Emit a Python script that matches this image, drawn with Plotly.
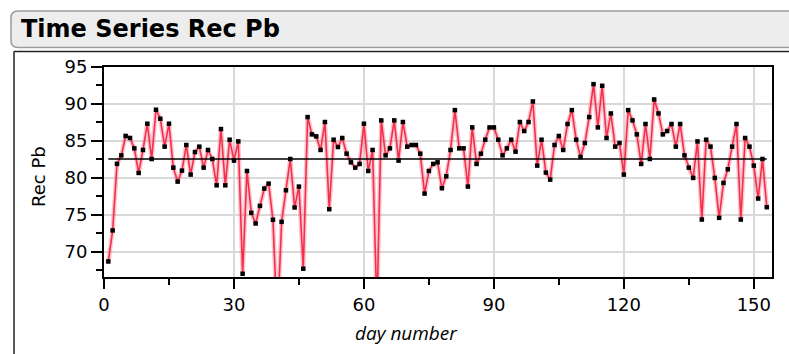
import plotly.graph_objects as go

# ---------------- data ----------------
days = list(range(1, 154))
rec_pb = [
    68.7, 72.9, 81.9, 83.05, 85.67, 85.4, 84.0, 80.67, 83.78, 87.33,
    82.56, 89.22, 88.0, 84.23, 87.33, 81.39, 79.5, 80.99, 84.45, 80.45,
    83.5, 84.23, 81.39, 83.78, 82.56, 79.0, 86.61, 79.0, 85.17, 82.34,
    84.94, 67.04, 80.94, 75.28, 73.84, 76.22, 78.56, 79.23, 74.34, 60.0,
    74.06, 78.33, 82.56, 76.0, 78.83, 67.72, 88.23, 85.89, 85.62, 83.78,
    87.56, 75.77, 85.17, 84.18, 85.4, 83.28, 82.11, 81.39, 81.89, 87.33,
    80.94, 83.78, 62.0, 87.78, 83.05, 84.0, 87.78, 82.34, 87.56, 84.23,
    84.45, 84.45, 83.28, 77.88, 80.94, 81.89, 82.11, 78.6, 80.22, 83.78,
    89.17, 84.0, 84.0, 78.83, 86.83, 81.89, 83.28, 85.17, 86.83, 86.83,
    85.17, 83.05, 84.0, 85.17, 83.55, 87.56, 86.34, 87.56, 90.34, 81.66,
    85.17, 80.72, 79.77, 84.45, 85.67, 83.78, 87.29, 89.17, 85.17, 82.83,
    84.72, 88.23, 92.68, 86.83, 92.46, 85.4, 88.72, 84.23, 84.72, 80.45,
    89.17, 87.78, 85.89, 81.89, 87.29, 82.56, 90.61, 88.72, 85.89, 86.34,
    87.29, 84.23, 87.29, 83.05, 81.39, 80.0, 84.94, 74.37, 85.17, 84.23,
    80.0, 74.6, 79.32, 81.17, 84.23, 87.29, 74.37, 85.4, 84.23, 81.66,
    77.21, 82.56, 76.04,
]
mean_value = 82.56
mean_x = [1, 153]
x_tick_vals = [0, 30, 60, 90, 120, 150]
y_tick_vals = [70, 75, 80, 85, 90, 95]
title_text = "Time Series Rec Pb"
x_title = "day number"
y_title = "Rec Pb"

# ---------------- layout geometry ----------------
W, H = 789, 354
L, R, T, B = 104, 17, 67, 77
PW = W - L - R
PH = H - T - B


def px(x):
    return (x - L) / PW


def py(y):
    return (H - B - y) / PH


fig = go.Figure()

# halo
fig.add_trace(go.Scatter(
    x=days, y=rec_pb, mode="lines",
    line=dict(color="rgba(255,90,115,0.35)", width=4.5),
    hoverinfo="skip", showlegend=False))
# main line + markers
fig.add_trace(go.Scatter(
    x=days, y=rec_pb, mode="lines+markers",
    line=dict(color="#f2304c", width=1.6),
    marker=dict(symbol="square", size=4.5, color="black"),
    showlegend=False))
# mean line
fig.add_trace(go.Scatter(
    x=mean_x, y=[mean_value, mean_value], mode="lines",
    line=dict(color="black", width=1.5), showlegend=False))

axis_font = dict(family="DejaVu Sans, sans-serif", size=18, color="black")

fig.update_xaxes(
    range=[0, 154.2], tickvals=x_tick_vals, ticks="outside", ticklen=10,
    tickwidth=1.5, tickcolor="black", showline=True, linecolor="black",
    linewidth=2, mirror=True, showgrid=True, gridcolor="#d9d9d9", gridwidth=1.5,
    zeroline=False, tickfont=axis_font,
    minor=dict(dtick=15, tick0=0, ticks="outside", ticklen=6, tickwidth=1.5,
               tickcolor="black", showgrid=False))
fig.update_yaxes(
    range=[66.6, 95.0], tickvals=y_tick_vals, ticks="outside", ticklen=11,
    tickwidth=1.5, tickcolor="black", showline=True, linecolor="black",
    linewidth=2, mirror=True, showgrid=True, gridcolor="#d9d9d9", gridwidth=1.5,
    zeroline=False, tickfont=axis_font,
    minor=dict(dtick=2.5, tick0=0, ticks="outside", ticklen=6, tickwidth=1.5,
               tickcolor="black", showgrid=False))

# title bar (rounded rect) and panel frame
x0, x1, y0, y1, r = px(11), px(800), py(11), py(47.5), 7
rx, ry = r / PW, r / PH
path = (f"M {x0+rx},{y0} L {x1},{y0} L {x1},{y1} L {x0+rx},{y1} "
        f"Q {x0},{y1} {x0},{y1+ry} L {x0},{y0-ry} Q {x0},{y0} {x0+rx},{y0} Z")
shapes = [
    dict(type="path", xref="paper", yref="paper", path=path,
         fillcolor="#ededed", line=dict(color="#9a9a9a", width=1.5), layer="below"),
    dict(type="line", xref="paper", yref="paper", x0=px(14), x1=px(800),
         y0=py(51.5), y1=py(51.5), line=dict(color="#222", width=1.5)),
    dict(type="line", xref="paper", yref="paper", x0=px(14), x1=px(14),
         y0=py(51.5), y1=py(360), line=dict(color="#222", width=1.5)),
]

annotations = [
    dict(text=f"<b>{title_text}</b>", xref="paper", yref="paper", x=px(19), y=py(29.5),
         xanchor="left", yanchor="middle", showarrow=False,
         font=dict(family="DejaVu Sans, sans-serif", size=24, color="black")),
    dict(text=y_title, xref="paper", yref="paper", x=px(38), y=py(177),
         xanchor="center", yanchor="middle", textangle=-90, showarrow=False,
         font=axis_font),
    dict(text=f"<i>{x_title}</i>", xref="paper", yref="paper", x=px(406), y=py(333),
         xanchor="center", yanchor="middle", showarrow=False,
         font=dict(family="Open Sans, sans-serif", size=19, color="black")),
]

fig.update_layout(
    width=W, height=H, margin=dict(l=L, r=R, t=T, b=B),
    paper_bgcolor="white", plot_bgcolor="white",
    shapes=shapes, annotations=annotations, showlegend=False)

fig.write_html("out.html")
